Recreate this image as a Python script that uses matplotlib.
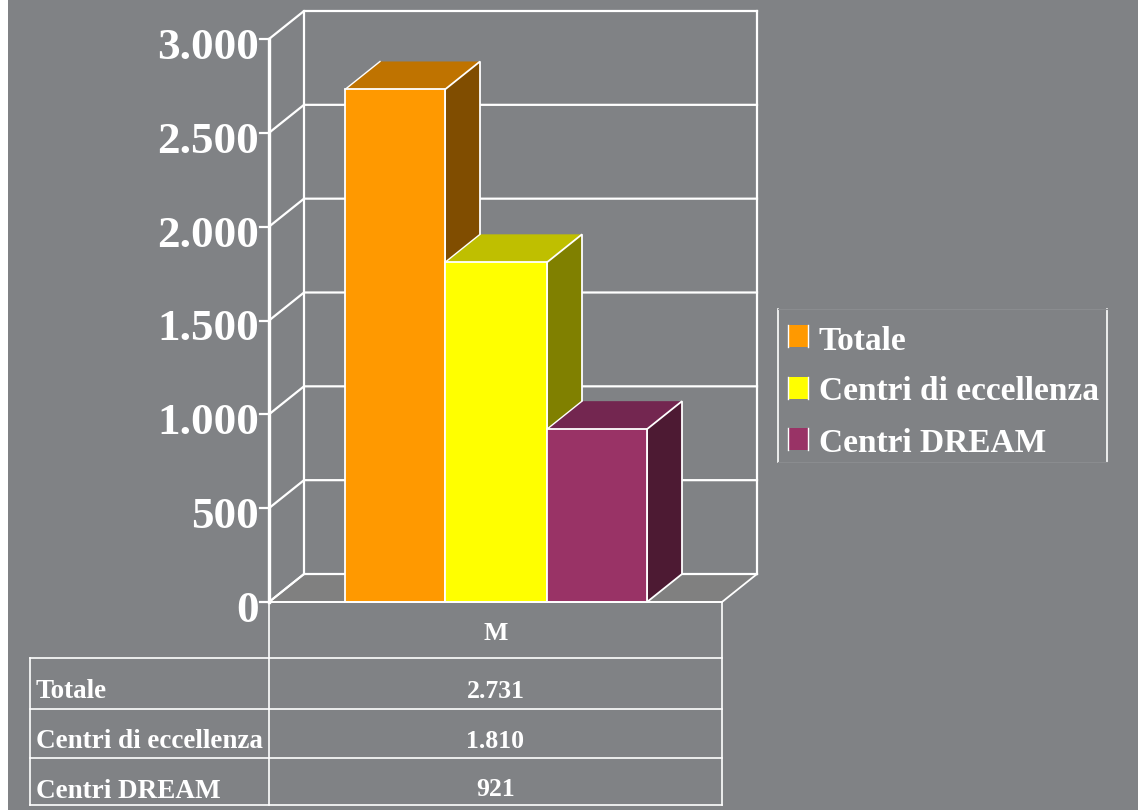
import matplotlib
matplotlib.use("Agg")
import matplotlib.pyplot as plt
from matplotlib.patches import Polygon, Rectangle

series = ["Totale", "Centri di eccellenza", "Centri DREAM"]
values = [2731, 1810, 921]
value_labels = ["2.731", "1.810", "921"]
category = "M"
yticks = [0, 500, 1000, 1500, 2000, 2500, 3000]
ytick_labels = ["0", "500", "1.000", "1.500", "2.000", "2.500", "3.000"]

front = ["#FF9900", "#FFFF00", "#993366"]
top = ["#BF7300", "#BFBF00", "#732650"]
side = ["#804D00", "#808000", "#4D1A33"]
bg = "#808285"
floor = "#808080"

W, H = 1138, 810
plt.rcParams["font.family"] = ["Liberation Serif", "DejaVu Serif"]
plt.rcParams["font.weight"] = "bold"

fig = plt.figure(figsize=(W / 100, H / 100), dpi=100, facecolor=bg)

# axes = front plane of the 3d box, x in pixels, y in data units
left, right, y0, y3000 = 269, 722, 602, 39
ax = fig.add_axes([left / W, 1 - y0 / H, (right - left) / W, (y0 - y3000) / H])
ax.set_xlim(left, right)
ax.set_ylim(0, 3000)
ax.axis("off")

px = 3000 / (y0 - y3000)
dx, dy = 35, 28 * px


def line(xs, ys, lw=1.6, z=2):
    ax.plot(xs, ys, color="white", lw=lw, clip_on=False, solid_capstyle="projecting", zorder=z)


def poly(pts, color, z=3, edge="white"):
    ax.add_patch(Polygon(pts, closed=True, facecolor=color, edgecolor=edge, lw=1.3,
                         clip_on=False, zorder=z, joinstyle="miter"))


# floor
poly([(left, 0), (right, 0), (right + dx, dy), (left + dx, dy)], floor, 1)

# walls and gridlines
for t in yticks:
    line([left, left + dx, right + dx], [t, t + dy, t + dy])
    line([left - 9, left], [t, t])
line([left, left], [0, 3000], 2.4)
line([left + dx, left + dx], [dy, 3000 + dy])
line([right + dx, right + dx], [dy, 3000 + dy])

for t, lab in zip(yticks, ytick_labels):
    ax.text(left - 10, t - 9 * px, lab, color="white", fontsize=32.5, ha="right", va="center", clip_on=False)

# bars
edges = [345, 445, 547, 647]
for i, v in enumerate(values):
    x0, x1 = edges[i], edges[i + 1]
    poly([(x0, v), (x0 + dx, v + dy), (x1 + dx, v + dy), (x1, v)], top[i], 3 + i, edge="none")
    line([x0, x0 + dx], [v, v + dy], 1.0, 3 + i)
    poly([(x1, 0), (x1 + dx, dy), (x1 + dx, v + dy), (x1, v)], side[i], 3 + i)
    poly([(x0, 0), (x1, 0), (x1, v), (x0, v)], front[i], 3 + i)

# pixel overlay for data table and legend
ov = fig.add_axes([0, 0, 1, 1], facecolor="none")
ov.set_xlim(0, W)
ov.set_ylim(H, 0)
ov.axis("off")

# white strip down the left edge of the slide
ov.add_patch(Rectangle((0, 0), 8, H, facecolor="white", edgecolor="none"))

rows = [658, 709, 758, 805]
tx0, tx1, tx2 = 30, 269, 722
for yy in [602] + rows:
    ov.plot([tx1 if yy < 650 else tx0, tx2], [yy, yy], color="white", lw=1.2)
ov.plot([tx0, tx0], [rows[0], rows[-1]], color="white", lw=1.2)
ov.plot([tx1, tx1], [602, rows[-1]], color="white", lw=1.2)
ov.plot([tx2, tx2], [602, rows[-1]], color="white", lw=1.2)

ov.text((tx1 + tx2) / 2, 634, category, color="white", fontsize=18.5, ha="center", va="center")
for name, lab, ly, vy in zip(series, value_labels, [691, 742, 791], [691, 741, 789]):
    ov.text(36, ly, name, color="white", fontsize=19.5, ha="left", va="center")
    ov.text((tx1 + tx2) / 2, vy, lab, color="white", fontsize=18.5, ha="center", va="center")

# legend
ov.plot([778, 778], [309, 462], color="white", lw=1.2)
ov.plot([1107, 1107], [309, 462], color="white", lw=1.2)
ov.plot([778, 1107], [309, 309], color="#8A8C8F", lw=0.8)
ov.plot([778, 1107], [462, 462], color="#8A8C8F", lw=0.8)
for name, c, sy, ty in zip(series, front, [325, 377, 428], [341, 392, 443]):
    ov.add_patch(Rectangle((788, sy), 20, 22, facecolor=c, edgecolor="none"))
    ov.plot([788, 788], [sy, sy + 22], color="white", lw=1)
    ov.plot([808, 808], [sy, sy + 22], color="white", lw=1)
    ov.text(819, ty, name, color="white", fontsize=24, ha="left", va="center")

fig.savefig("out.png", dpi=100, facecolor=bg)
